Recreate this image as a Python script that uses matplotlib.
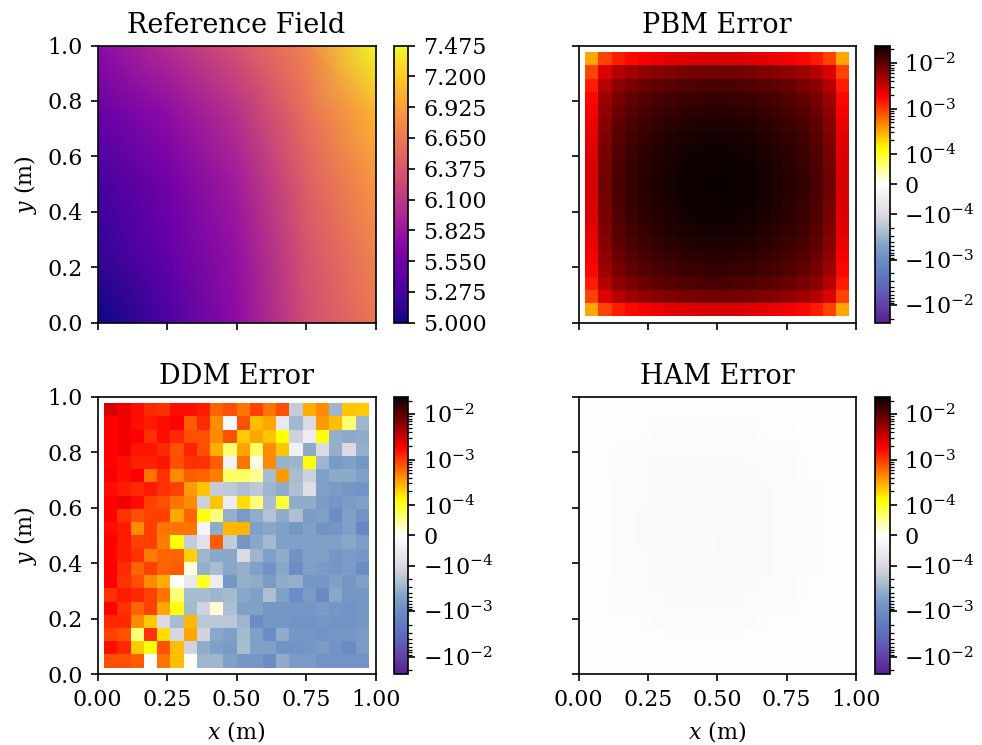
import numpy as np
import matplotlib
matplotlib.use("Agg")
import matplotlib.pyplot as plt
from matplotlib.colors import SymLogNorm, LinearSegmentedColormap, Normalize
from matplotlib.ticker import SymmetricalLogLocator, FormatStrFormatter

plt.rcParams['font.family'] = 'serif'
plt.rcParams['font.serif'] = ['DejaVu Serif']
plt.rcParams['mathtext.fontset'] = 'dejavuserif'
plt.rcParams['font.size'] = 10.6
plt.rcParams['axes.titlesize'] = 13

# ---------------- data ----------------
# Reference field sampled on a coarse node grid (rows from y=0 to y=1)
ref_x = [0.0, 0.25, 0.5, 0.75, 1.0]
ref_y = [0.0, 0.25, 0.5, 0.75, 1.0]
ref_field = [
    [5.00, 5.30, 5.72, 6.29, 6.63],
    [5.17, 5.45, 5.77, 6.34, 6.73],
    [5.27, 5.54, 5.87, 6.44, 6.86],
    [5.47, 5.72, 6.04, 6.56, 7.05],
    [5.72, 6.01, 6.34, 6.73, 7.475],
]

# Error grids: 20 x 20 interior cells, rows listed from top (y high) to bottom
pbm_err_1e3 = [
    [0.32, 0.92, 1.40, 1.73, 2.01, 2.23, 2.43, 2.60, 2.71, 2.79, 2.79, 2.71, 2.60, 2.43, 2.23, 2.01, 1.73, 1.40, 0.92, 0.32],
    [0.92, 2.67, 4.04, 5.01, 5.82, 6.47, 7.03, 7.52, 7.84, 8.09, 8.09, 7.84, 7.52, 7.03, 6.47, 5.82, 5.01, 4.04, 2.67, 0.92],
    [1.40, 4.04, 6.13, 7.60, 8.82, 9.80, 10.7, 11.4, 11.9, 12.3, 12.3, 11.9, 11.4, 10.7, 9.80, 8.82, 7.60, 6.13, 4.04, 1.40],
    [1.73, 5.01, 7.60, 9.42, 10.9, 12.2, 13.2, 14.1, 14.7, 15.2, 15.2, 14.7, 14.1, 13.2, 12.2, 10.9, 9.42, 7.60, 5.01, 1.73],
    [2.01, 5.82, 8.82, 10.9, 12.7, 14.1, 15.3, 16.4, 17.1, 17.6, 17.6, 17.1, 16.4, 15.3, 14.1, 12.7, 10.9, 8.82, 5.82, 2.01],
    [2.23, 6.47, 9.80, 12.2, 14.1, 15.7, 17.1, 18.2, 19.0, 19.6, 19.6, 19.0, 18.2, 17.1, 15.7, 14.1, 12.2, 9.80, 6.47, 2.23],
    [2.43, 7.03, 10.7, 13.2, 15.3, 17.1, 18.5, 19.8, 20.7, 21.3, 21.3, 20.7, 19.8, 18.5, 17.1, 15.3, 13.2, 10.7, 7.03, 2.43],
    [2.60, 7.52, 11.4, 14.1, 16.4, 18.2, 19.8, 21.2, 22.1, 22.8, 22.8, 22.1, 21.2, 19.8, 18.2, 16.4, 14.1, 11.4, 7.52, 2.60],
    [2.71, 7.84, 11.9, 14.7, 17.1, 19.0, 20.7, 22.1, 23.1, 23.8, 23.8, 23.1, 22.1, 20.7, 19.0, 17.1, 14.7, 11.9, 7.84, 2.71],
    [2.79, 8.09, 12.3, 15.2, 17.6, 19.6, 21.3, 22.8, 23.8, 24.5, 24.5, 23.8, 22.8, 21.3, 19.6, 17.6, 15.2, 12.3, 8.09, 2.79],
    [2.79, 8.09, 12.3, 15.2, 17.6, 19.6, 21.3, 22.8, 23.8, 24.5, 24.5, 23.8, 22.8, 21.3, 19.6, 17.6, 15.2, 12.3, 8.09, 2.79],
    [2.71, 7.84, 11.9, 14.7, 17.1, 19.0, 20.7, 22.1, 23.1, 23.8, 23.8, 23.1, 22.1, 20.7, 19.0, 17.1, 14.7, 11.9, 7.84, 2.71],
    [2.60, 7.52, 11.4, 14.1, 16.4, 18.2, 19.8, 21.2, 22.1, 22.8, 22.8, 22.1, 21.2, 19.8, 18.2, 16.4, 14.1, 11.4, 7.52, 2.60],
    [2.43, 7.03, 10.7, 13.2, 15.3, 17.1, 18.5, 19.8, 20.7, 21.3, 21.3, 20.7, 19.8, 18.5, 17.1, 15.3, 13.2, 10.7, 7.03, 2.43],
    [2.23, 6.47, 9.80, 12.2, 14.1, 15.7, 17.1, 18.2, 19.0, 19.6, 19.6, 19.0, 18.2, 17.1, 15.7, 14.1, 12.2, 9.80, 6.47, 2.23],
    [2.01, 5.82, 8.82, 10.9, 12.7, 14.1, 15.3, 16.4, 17.1, 17.6, 17.6, 17.1, 16.4, 15.3, 14.1, 12.7, 10.9, 8.82, 5.82, 2.01],
    [1.73, 5.01, 7.60, 9.42, 10.9, 12.2, 13.2, 14.1, 14.7, 15.2, 15.2, 14.7, 14.1, 13.2, 12.2, 10.9, 9.42, 7.60, 5.01, 1.73],
    [1.40, 4.04, 6.13, 7.60, 8.82, 9.80, 10.7, 11.4, 11.9, 12.3, 12.3, 11.9, 11.4, 10.7, 9.80, 8.82, 7.60, 6.13, 4.04, 1.40],
    [0.92, 2.67, 4.04, 5.01, 5.82, 6.47, 7.03, 7.52, 7.84, 8.09, 8.09, 7.84, 7.52, 7.03, 6.47, 5.82, 5.01, 4.04, 2.67, 0.92],
    [0.32, 0.92, 1.40, 1.73, 2.01, 2.23, 2.43, 2.60, 2.71, 2.79, 2.79, 2.71, 2.60, 2.43, 2.23, 2.01, 1.73, 1.40, 0.92, 0.32],
]

ddm_err_1e4 = [
    [28, 22, 16, 12, 11, 16, 16, 14, 6.5, 8, 5.5, 9.4, 5.5, 8, -1.5, 3, 4.3, -3, 2.3, 2.2],
    [18, 21, 16, 14, 16, 18, 7, 12, 4.3, -0.2, 8, 2.5, 3.2, -0.6, -2.8, -1.0, 3.7, 2.5, 0.65, -3],
    [18, 21, 18, 11, 16, 12, 8, 8, 4.3, 8, 2.2, 3.2, 2.3, 1.2, -1.3, -0.5, 1.2, -3.5, -4, -3.8],
    [18, 21, 15, 15, 12, 8, 13, 8, 3, 0.65, 3.3, 0.7, 4.3, 2.3, -0.4, -4, -1, -3.5, -1, -3.5],
    [18, 16, 13, 13, 15, 8, 11, 11, 7, -0.35, 5.5, 0.1, 4.3, -3.3, -3, 1.24, -3, -6, -5, -7],
    [20, 16, 18, 5.5, 11, 4.3, 7, 6.5, 5, 0.7, 0.7, 0.5, -2.5, 3.7, -2.5, -1.3, -5, -4, -4, -5],
    [16, 14, 12, 14, 11, 9.4, 3.7, 2.3, -1.5, -1.7, -2.3, -1.7, -3, -3.8, -2.3, -0.9, -5, -6, -7, -8],
    [18, 21, 16, 9.4, 8, 5.5, 4.3, -1.3, 2.3, -0.5, 1.8, 0.6, -2.5, 0.9, -3.8, -3.8, -6, -7, -6, -5],
    [18, 11, 8, 9.4, 9.4, 3.2, 6.5, 1.2, 0.6, -3.5, -6, -3.8, -2, -3.8, -2.3, -6, -5, -10, -5, -8],
    [16, 14, 4.3, 9.4, 5.5, 5.5, 5.5, -0.25, -3.8, 2.7, 2.8, -5, -4.3, -5, -7, -5, -8, -7, -5, -12],
    [18, 14, 9.4, 9.4, 5, 1.2, -1.5, -0.8, 7, -1.5, -7, -4.3, -2.7, -5, -5, -5, -5, -5, -4.3, -5.5],
    [18, 14, 11, 5, 6.5, 6.5, 2.1, -3, -4.3, -4.3, -1, -3, -5, -3.8, -8, -5, -5, -7, -6, -7],
    [18, 12, 6.5, 9.4, 6.5, 7, 0.15, -3.5, -2.5, -4.3, -3.5, -5, -8, -4.3, -10, -5, -6, -7, -6, -10],
    [18, 11, 8, 4.3, 3, 0, -0.6, 1.0, -0.5, -7, -3.5, -3.8, -6, -3.8, -3.5, -7, -7, -5, -7, -5],
    [11, 14, 12, 9.4, 5.5, 0.6, -2.5, -2.5, -3, -2.7, -4.3, -5, -2.3, -5, -10, -6, -11, -4.3, -7, -7],
    [18, 11, 6.5, 9.4, 3.2, 1.2, -2.7, -1.2, 0.2, -2.3, -5, -5, -7, -7, -7, -7, -6, -7, -8, -7],
    [12, 12, 4.3, 2.2, -1, -2.5, 2.7, -1.8, -1.8, -1.8, -3, -10, -7, -7, -8, -8, -7, -8, -8, -7],
    [9.4, 8, 0.6, 11, 1.8, -1.1, 3.2, -1.2, -4.3, -5, -2.7, -5, -10, -3.8, -7, -7, -8, -7, -7, -6],
    [16, 12, 2.2, 1.2, 8, 2.5, -1.2, -3.8, -5, -6, -2.5, -5, -5, -8, -8, -7, -6, -8, -11, -6],
    [8, 8, 7, 0, 5.5, 2.5, 0.05, -3, -3, -5, -7, -7, -10, -3.8, -6, -6, -8, -8, -8, -8],
]

ham_err_1e6 = [
    [-1, -1, -1, -1, -2, -2, -2, -2, -2, -2, -2, -2, -2, -2, -2, -1, -1, -1, -1, -1],
    [-1, -2, -3, -3, -5, -8, -8, -8, -8, -8, -8, -8, -8, -6, -5, -4, -3, -3, -2, -1],
    [-1, -3, -5, -6, -8, -9, -12, -12, -12, -12, -12, -12, -9, -8, -6, -6, -5, -3, -2, -1],
    [-1, -6, -8, -8, -10, -12, -12, -12, -12, -12, -12, -12, -12, -10, -10, -8, -6, -6, -2, -1],
    [-1, -5, -8, -10, -12, -13, -13, -14, -14, -13, -13, -13, -12, -12, -10, -9, -8, -5, -2, -1],
    [-1, -5, -8, -10, -12, -13, -14, -14, -14, -14, -14, -13, -13, -12, -11, -10, -8, -6, -3, -1],
    [-1, -6, -9, -11, -12, -13, -14, -15, -15, -14, -14, -14, -13, -13, -12, -10, -9, -7, -3, -1],
    [-1, -6, -9, -11, -12, -14, -14, -15, -16, -15, -15, -14, -14, -13, -12, -11, -9, -7, -3, -1],
    [-1, -6, -9, -11, -13, -14, -15, -15, -15, -15, -15, -15, -14, -13, -12, -11, -9, -7, -3, -1],
    [-1, -6, -9, -11, -13, -14, -15, -15, -15, -15, -15, -15, -14, -14, -12, -11, -9, -7, -3, -1],
    [-1, -6, -9, -11, -13, -14, -15, -15, -15, -15, -16, -15, -14, -13, -12, -11, -9, -7, -3, -1],
    [-1, -6, -9, -11, -12, -14, -14, -15, -15, -15, -15, -14, -14, -13, -12, -11, -9, -7, -3, -1],
    [-1, -6, -9, -11, -12, -13, -14, -14, -15, -14, -14, -14, -13, -13, -12, -10, -9, -7, -3, -1],
    [-1, -5, -8, -10, -12, -13, -13, -14, -14, -14, -14, -13, -13, -12, -11, -10, -8, -6, -3, -1],
    [-1, -5, -8, -10, -11, -12, -13, -13, -13, -13, -13, -13, -12, -12, -10, -9, -8, -5, -2, -1],
    [-1, -4, -7, -8, -10, -11, -12, -12, -12, -12, -12, -11, -11, -10, -9, -8, -6, -5, -2, -1],
    [-1, -3, -5, -6, -8, -9, -10, -10, -10, -10, -10, -10, -9, -8, -6, -6, -5, -3, -2, -1],
    [-1, -2, -3, -4, -5, -6, -8, -8, -8, -8, -8, -8, -6, -6, -5, -4, -3, -3, -2, -1],
    [-1, -1, -2, -2, -3, -3, -4, -4, -6, -6, -4, -4, -4, -3, -3, -2, -2, -2, -1, -1],
    [-1, -1, -1, -1, -1, -1, -1, -1, -1, -1, -1, -1, -1, -1, -1, -1, -1, -1, -1, -1],
]

titles = ["Reference Field", "PBM Error", "DDM Error", "HAM Error"]

# ---------------- arrays ----------------
field = np.array(ref_field)
pbm = np.array(pbm_err_1e3) * 1e-3
ddm = np.array(ddm_err_1e4) * 1e-4
ham = np.array(ham_err_1e6) * 1e-6

n_cells = pbm.shape[1]
cell_x = np.arange(1, n_cells + 1) / (n_cells + 1)   # interior nodes of the grid
cell_y = cell_x[::-1]                                # rows are listed top to bottom

err_max = max(np.abs(pbm).max(), np.abs(ddm).max(), np.abs(ham).max())
err_norm = SymLogNorm(linthresh=1e-4, linscale=0.6, vmin=-err_max, vmax=err_max, base=10)

# diverging map: cool greys/blues/violet below zero, hot_r above
neg_levels = [err_max, 1e-2, 5e-3, 2e-3, 1e-3, 5e-4, 2.5e-4, 1e-4, 0.0]
neg_colors = [(0.34, 0.12, 0.55), (0.38, 0.26, 0.65), (0.37, 0.37, 0.72),
              (0.38, 0.48, 0.76), (0.42, 0.55, 0.77), (0.50, 0.63, 0.78),
              (0.66, 0.74, 0.81), (0.86, 0.85, 0.89), (1.0, 1.0, 1.0)]
neg_pos = [float(err_norm(-v)) for v in neg_levels]
neg_pos[0] = 0.0
neg_pos[-1] = 0.5
hot_r = plt.get_cmap('hot_r')
t_hot = np.linspace(0, 1, 129)[1:]
stops = list(zip(neg_pos, neg_colors)) + [(0.5 + 0.5 * t, hot_r(t)) for t in t_hot]
stops[-1] = (1.0, stops[-1][1])
err_cmap = LinearSegmentedColormap.from_list('err', stops, N=1024)

# ---------------- layout ----------------
W, H = 982, 745
fig = plt.figure(figsize=(W / 150, H / 150), dpi=150)


def box(x0, y0, x1, y1):
    return [x0 / W, 1 - y1 / H, (x1 - x0) / W, (y1 - y0) / H]


ax_boxes = [box(97.5, 45.5, 375.5, 322.7), box(578.5, 45.5, 856.0, 322.7),
            box(97.5, 396.5, 375.5, 674.3), box(578.5, 396.5, 856.0, 674.3)]
cb_boxes = [box(394.0, 45.5, 408.5, 322.7), box(875.0, 45.5, 889.5, 322.7),
            box(394.0, 396.5, 408.5, 674.3), box(875.0, 396.5, 889.5, 674.3)]

axes = [fig.add_axes(b) for b in ax_boxes]
caxes = [fig.add_axes(b) for b in cb_boxes]

# Reference field
ref_norm = Normalize(vmin=field.min(), vmax=field.max())
m0 = axes[0].pcolormesh(ref_x, ref_y, field, shading='gouraud', cmap='plasma', norm=ref_norm)
cb0 = fig.colorbar(m0, cax=caxes[0])
cb0.set_ticks(np.linspace(field.min(), field.max(), 10))
cb0.ax.yaxis.set_major_formatter(FormatStrFormatter('%.3f'))

# Error panels
for ax, cax, grid in zip(axes[1:], caxes[1:], [pbm, ddm, ham]):
    m = ax.pcolormesh(cell_x, cell_y, grid, shading='nearest', cmap=err_cmap, norm=err_norm)
    cb = fig.colorbar(m, cax=cax)
    cb.minorlocator = SymmetricalLogLocator(linthresh=1e-4, base=10, subs=np.arange(2, 10))

for i, ax in enumerate(axes):
    ax.set_xlim(0, 1)
    ax.set_ylim(0, 1)
    ax.set_xticks([0.0, 0.25, 0.5, 0.75, 1.0])
    ax.set_yticks([0.0, 0.2, 0.4, 0.6, 0.8, 1.0])
    ax.set_title(titles[i])
    if i < 2:
        ax.tick_params(labelbottom=False)
    else:
        ax.set_xlabel('$x$ (m)')
    if i % 2 == 1:
        ax.tick_params(labelleft=False)
    else:
        ax.set_ylabel('$y$ (m)')

fig.savefig('out.png', dpi=150)
